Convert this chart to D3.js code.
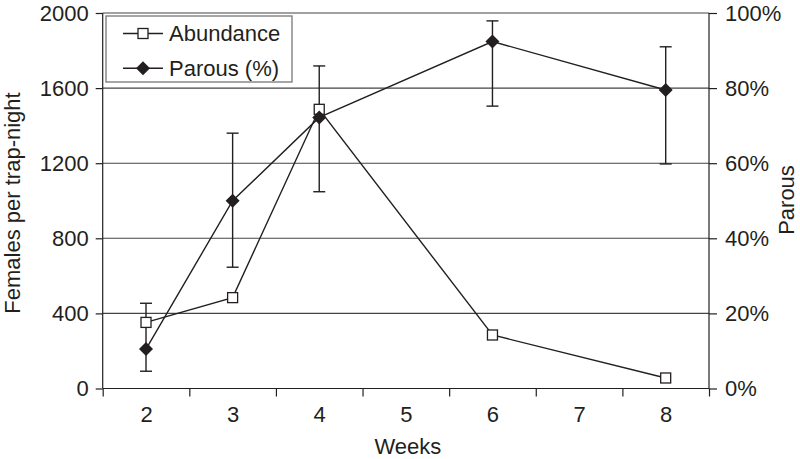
<!DOCTYPE html>
<html><head><meta charset="utf-8">
<script src="https://cdn.jsdelivr.net/npm/d3@7"></script>
<style>body{margin:0;background:#fff}svg{display:block}text{font-family:"Liberation Sans",Arial,sans-serif;fill:#231f20}</style>
</head><body>
<svg id="c" width="800" height="459"></svg>
<script>
const weeks = [2, 3, 4, 5, 6, 7, 8];
const sampleWeeks = [2, 3, 4, 6, 8];
const abundance = [352, 484, 1487, 285, 56];
const parous = [10.5, 50, 72.2, 92.4, 79.5];
const parousHigh = [22.7, 68, 85.9, 97.9, 91.0];
const parousLow = [4.6, 32.3, 52.4, 75.2, 59.8];
const leftTicks = [0, 400, 800, 1200, 1600, 2000];
const rightTicks = [0, 20, 40, 60, 80, 100];

const svg = d3.select("#c");
const L = 102.7, R = 709, T = 13, B = 388.5;
const ink = "#231f20";
const FS = 22;
const x = d3.scaleLinear().domain([1.5, 8.5]).range([L, R]);
const yL = d3.scaleLinear().domain([0, 2000]).range([B, T]);
const yR = d3.scaleLinear().domain([0, 100]).range([B, T]);

// gridlines
svg.append("g").selectAll("line").data(leftTicks.filter(d => d > 0)).join("line")
  .attr("x1", L).attr("x2", R).attr("y1", d => yL(d)).attr("y2", d => yL(d))
  .attr("stroke", "#444").attr("stroke-width", 1.1);

// left axis
const gl = svg.append("g").attr("transform", `translate(${L},0)`)
  .call(d3.axisLeft(yL).tickValues(leftTicks).tickSize(7).tickPadding(7).tickFormat(d3.format("d")));
// right axis
const gr = svg.append("g").attr("transform", `translate(${R},0)`)
  .call(d3.axisRight(yR).tickValues(rightTicks).tickSize(8).tickPadding(8).tickFormat(d => d + "%"));
// bottom axis: boundary ticks
const gb = svg.append("g").attr("transform", `translate(0,${B})`)
  .call(d3.axisBottom(x).tickValues(d3.range(1.5, 8.6, 1)).tickSize(8).tickFormat(""));
const gb2 = svg.append("g").attr("transform", `translate(0,${B})`)
  .call(d3.axisBottom(x).tickValues(weeks).tickSize(0).tickPadding(17.5).tickFormat(d3.format("d")));
gb2.select(".domain").remove();
[gl, gr, gb, gb2].forEach(g => {
  g.selectAll("text").attr("font-size", FS).attr("fill", ink).attr("font-family", "Liberation Sans, Arial, sans-serif");
  g.selectAll("line,path").attr("stroke", ink).attr("stroke-width", 1.2);
});
gl.select(".domain").attr("d", `M0,${B}V${T}`);
gr.select(".domain").attr("d", `M0,${B}V${T}`);
gb.select(".domain").attr("d", `M${L},0H${R}`);

// axis titles
svg.append("text").attr("transform", `translate(19.5,203) rotate(-90)`)
  .attr("text-anchor", "middle").attr("font-size", FS).text("Females per trap-night");
svg.append("text").attr("transform", `translate(794,200) rotate(-90)`)
  .attr("text-anchor", "middle").attr("font-size", FS).text("Parous");
svg.append("text").attr("x", (L+R)/2 + 2).attr("y", 454).attr("text-anchor", "middle")
  .attr("font-size", FS).text("Weeks");

// lines
const abData = sampleWeeks.map((w, i) => ({w, v: abundance[i]}));
const paData = sampleWeeks.map((w, i) => ({w, v: parous[i], hi: parousHigh[i], lo: parousLow[i]}));
svg.append("path").datum(abData)
  .attr("d", d3.line().x(d => x(d.w)).y(d => yL(d.v)))
  .attr("fill", "none").attr("stroke", ink).attr("stroke-width", 1.4);
svg.append("path").datum(paData)
  .attr("d", d3.line().x(d => x(d.w)).y(d => yR(d.v)))
  .attr("fill", "none").attr("stroke", ink).attr("stroke-width", 1.4);

// error bars
const eb = svg.append("g").attr("stroke", ink).attr("stroke-width", 1.4);
paData.forEach(d => {
  eb.append("line").attr("x1", x(d.w)).attr("x2", x(d.w)).attr("y1", yR(d.hi)).attr("y2", yR(d.lo));
  eb.append("line").attr("x1", x(d.w) - 6).attr("x2", x(d.w) + 6).attr("y1", yR(d.hi)).attr("y2", yR(d.hi));
  eb.append("line").attr("x1", x(d.w) - 6).attr("x2", x(d.w) + 6).attr("y1", yR(d.lo)).attr("y2", yR(d.lo));
});

// markers
const sq = 10, dm = 7;
svg.append("g").selectAll("rect").data(abData).join("rect")
  .attr("x", d => x(d.w) - sq/2).attr("y", d => yL(d.v) - sq/2)
  .attr("width", sq).attr("height", sq).attr("fill", "#fff").attr("stroke", ink).attr("stroke-width", 1.3);
const diamond = (cx, cy) => `M${cx},${cy-dm}L${cx+dm},${cy}L${cx},${cy+dm}L${cx-dm},${cy}Z`;
svg.append("g").selectAll("path").data(paData).join("path")
  .attr("d", d => diamond(x(d.w), yR(d.v))).attr("fill", ink);

// legend
const lg = svg.append("g");
lg.append("rect").attr("x", 106).attr("y", 16).attr("width", 186).attr("height", 66)
  .attr("fill", "#fff").attr("stroke", "#777").attr("stroke-width", 1.3);
const rows = [{label: "Abundance", y: 33.5, type: "sq"}, {label: "Parous (%)", y: 68.3, type: "dm"}];
rows.forEach(r => {
  lg.append("line").attr("x1", 123).attr("x2", 163).attr("y1", r.y).attr("y2", r.y)
    .attr("stroke", ink).attr("stroke-width", 1.4);
  if (r.type === "sq") lg.append("rect").attr("x", 143 - sq/2).attr("y", r.y - sq/2).attr("width", sq).attr("height", sq)
    .attr("fill", "#fff").attr("stroke", ink).attr("stroke-width", 1.3);
  else lg.append("path").attr("d", diamond(143, r.y)).attr("fill", ink);
  lg.append("text").attr("x", 169).attr("y", r.y + 7.3).attr("font-size", FS).text(r.label);
});
</script>
</body></html>
